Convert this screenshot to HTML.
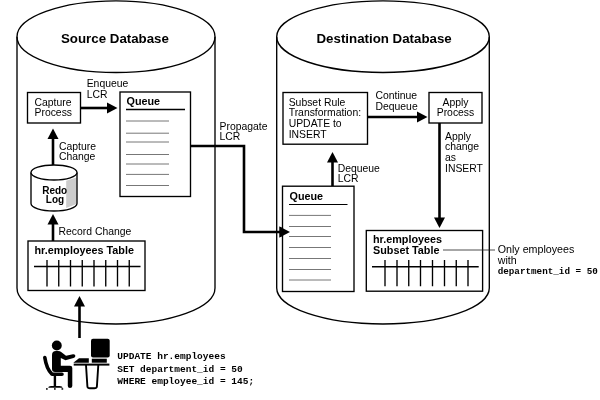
<!DOCTYPE html>
<html><head><meta charset="utf-8">
<style>
html,body{margin:0;padding:0;background:#fff;}
body{width:600px;height:400px;overflow:hidden;}
svg{display:block;filter:grayscale(1);}
text{font-family:"Liberation Sans",Arial,Helvetica,sans-serif;font-size:10.4px;fill:#000;}
.b{font-weight:bold;font-size:10.8px;}
.t{font-weight:bold;font-size:13.3px;}
.m{font-family:"Liberation Mono","Courier New",monospace;font-size:9.5px;font-weight:bold;}
.ln{stroke:#000;stroke-width:1.35;fill:none;}
.bx{stroke:#000;stroke-width:1.35;fill:#fff;}
.th{stroke:#000;stroke-width:2.6;fill:none;}
.g{stroke:#777;stroke-width:1;fill:none;}
</style></head><body>
<svg width="600" height="400" viewBox="0 0 600 400">
<rect width="600" height="400" fill="#fff"/>
<!-- source cylinder -->
<ellipse class="ln" cx="116" cy="36.7" rx="99" ry="35.8"/>
<path class="ln" d="M17,36.7 V288 A99,36 0 0 0 215,288 V36.7"/>
<!-- dest cylinder -->
<ellipse class="ln" cx="383" cy="36.7" rx="106.3" ry="35.8"/>
<path class="ln" d="M276.7,36.7 V288 A106.3,36 0 0 0 489.3,288 V36.7"/>
<text class="t" x="61" y="42.5">Source Database</text>
<text class="t" x="316.5" y="42.5">Destination Database</text>

<!-- capture process -->
<rect class="bx" x="27.5" y="92.5" width="53" height="30.5"/>
<text x="34.5" y="105.8">Capture</text>
<text x="34.5" y="115.8">Process</text>
<path class="th" d="M80,108 H108"/>
<path d="M107,102.5 L117.5,108 L107,113.5 Z"/>
<text x="86.7" y="86.7">Enqueue</text>
<text x="86.7" y="97.5">LCR</text>

<!-- source queue -->
<rect class="bx" x="120" y="92" width="70.5" height="104.5"/>
<text class="b" x="126.5" y="104.500">Queue</text>
<path d="M126,109.5 H185" stroke="#000" stroke-width="1.4"/>
<path class="g" d="M126,121 H169 M126,133.200 H169 M126,142 H169 M126,154.500 H169 M126,164 H169 M126,174.400 H169 M126,185.500 H169"/>

<!-- capture change arrow -->
<path class="th" d="M53,165 V138"/>
<path d="M47.5,139 L53,128.5 L58.500,139 Z"/>
<text x="59" y="149.700">Capture</text>
<text x="59" y="160.300">Change</text>

<!-- redo log -->
<path d="M66.200,180.800 L76.500,177.500 V204 L66.200,208 Z" fill="#ccc"/>
<path class="ln" d="M31,172.500 V203.500 A23,7.500 0 0 0 77,203.500 V172.500"/>
<ellipse class="bx" cx="54" cy="172.500" rx="23" ry="7.500"/>
<text class="b" style="font-size:10px" x="54.700" y="193.700" text-anchor="middle">Redo</text>
<text class="b" style="font-size:10px" x="55" y="203.200" text-anchor="middle">Log</text>

<!-- record change arrow -->
<path class="th" d="M53,241 V223"/>
<path d="M47.500,224.500 L53,214 L58.500,224.500 Z"/>
<text x="58.500" y="235">Record Change</text>

<!-- hr.employees table -->
<rect class="bx" x="28" y="241" width="117" height="49.500"/>
<text class="b" x="34.500" y="254">hr.employees Table</text>
<path class="ln" d="M34,266.500 H140.500 M47,260 V286.500 M58.750,260 V286.500 M70.500,260 V286.500 M82.250,260 V286.500 M94,260 V286.500 M105.750,260 V286.500 M117.500,260 V286.500 M129.250,260 V286.500"/>

<!-- user arrow -->
<path class="th" d="M79.500,338 V305"/>
<path d="M74,306.500 L79.500,296 L85,306.500 Z"/>

<!-- person icon -->
<g fill="#000" stroke="none">
<circle cx="56.800" cy="345.500" r="4.950"/>
<path d="M52,355 Q52,351 56,351 H58 Q60,351 61.500,352.300 L66,355.800 L73,354.200 Q75.500,354 75.400,356 Q75.300,357.400 73.500,357.900 L65.500,360.300 L60.800,358 V365.700 H70 Q72.300,365.700 72.300,368 V386 Q72.300,388 70,388 Q67.800,388 67.800,386 V372 H55 Q52,372 52,369 Z"/>
<path d="M44.800,357.500 Q46.500,369 52,374.200 H62" fill="none" stroke="#000" stroke-width="3.600" stroke-linecap="round" stroke-linejoin="round"/>
<rect x="53.700" y="375" width="2.400" height="11"/>
<path d="M48.200,387.800 Q48.200,386 51,386 H59.500 Q62.500,386 62.500,387.800 Z"/>
<rect x="46" y="388.200" width="1.700" height="1.500"/>
<rect x="54" y="388.200" width="1.700" height="1.500"/>
<rect x="61.500" y="388.200" width="1.700" height="1.500"/>
<rect x="91" y="338.800" width="18.700" height="18.600" rx="2"/>
<rect x="91.800" y="358.700" width="15" height="4"/>
<path d="M73.300,362.700 L79,358.300 H88.800 V362.700 Z"/>
<rect x="73.700" y="363.600" width="35.700" height="2"/>
</g>
<path d="M86,365 L87.400,386.500 Q87.600,388.300 90,388.300 H94.300 Q96.700,388.300 96.900,386.500 L98.300,365" fill="none" stroke="#000" stroke-width="1.900"/>

<text class="m" x="117.300" y="358.700">UPDATE hr.employees</text>
<text class="m" x="117.300" y="372.200">SET department_id = 50</text>
<text class="m" x="117.300" y="383.500">WHERE employee_id = 145;</text>

<!-- propagate -->
<path class="th" d="M190.500,146 H244 V232 H281" stroke-linejoin="miter"/>
<path d="M279.500,226.500 L290,232 L279.500,237.500 Z"/>
<text x="219.500" y="129.800">Propagate</text>
<text x="219.500" y="139.700">LCR</text>

<!-- subset rule box -->
<rect class="bx" x="283" y="92.500" width="84.500" height="51.700"/>
<text x="288.700" y="105.700">Subset Rule</text>
<text x="288.700" y="116.200">Transformation:</text>
<text x="288.700" y="127">UPDATE to</text>
<text x="288.700" y="137.500">INSERT</text>
<path class="th" d="M367.500,117 H418"/>
<path d="M417,111.500 L427.500,117 L417,122.500 Z"/>
<text x="375.500" y="98.700">Continue</text>
<text x="375.500" y="109.500">Dequeue</text>

<!-- apply process -->
<rect class="bx" x="429" y="92.500" width="53" height="30.500"/>
<text x="455.500" y="106" text-anchor="middle">Apply</text>
<text x="455.500" y="115.800" text-anchor="middle">Process</text>
<path class="th" d="M439.500,123 V219"/>
<path d="M434,217.500 L439.500,228 L445,217.500 Z"/>
<text x="445" y="139.800">Apply</text>
<text x="445" y="149.800">change</text>
<text x="445" y="160.500">as</text>
<text x="445" y="171.800">INSERT</text>

<!-- dequeue arrow -->
<path class="th" d="M332.500,186 V161"/>
<path d="M327,162.500 L332.500,152 L338,162.500 Z"/>
<text x="337.700" y="171.700">Dequeue</text>
<text x="337.700" y="181.800">LCR</text>

<!-- dest queue -->
<rect class="bx" x="282.500" y="186.200" width="71.500" height="105.300"/>
<path class="g" d="M289,215.400 H331 M289,226.500 H331 M289,236.500 H331 M289,247.500 H331 M289,258.500 H331 M289,269.500 H331 M289,280 H331"/>
<text class="b" x="289.500" y="199.500">Queue</text>
<path d="M289,204.500 H347.500" stroke="#000" stroke-width="1.100"/>
<path d="M279.500,226.500 L290,232 L279.500,237.500 Z"/>

<!-- subset table -->
<rect class="bx" x="366.300" y="230.500" width="116.300" height="60.700"/>
<text class="b" x="373" y="242.500">hr.employees</text>
<text class="b" x="373" y="253.700">Subset Table</text>
<path class="ln" d="M372,266.700 H478.700 M385,260 V286.300 M397,260 V286.300 M408.750,260 V286.300 M420.500,260 V286.300 M432.500,260 V286.300 M444.500,260 V286.300 M456.250,260 V286.300 M468,260 V286.300"/>
<path d="M443,250 H495" stroke="#222" stroke-width="0.800"/>
<text x="497.700" y="252.500" style="font-size:10.7px">Only employees</text>
<text x="497.700" y="263.600" style="font-size:10.7px">with</text>
<text class="m" x="497.700" y="273.600" style="font-size:9.27px">department_id = 50</text>
</svg>
</body></html>
